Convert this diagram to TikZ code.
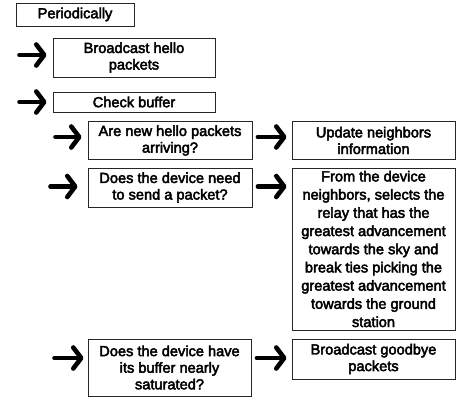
\documentclass[tikz,border=0pt]{standalone}
\usepackage{fontspec}
\setmainfont{Liberation Sans}[FakeBold=3]
\usetikzlibrary{arrows.meta}
\begin{document}
\begin{tikzpicture}[x=1pt,y=-1pt,
  box/.style={draw=black!85, line width=0.9pt, inner sep=0pt, align=center,
    font=\fontsize{14.6}{16.6}\selectfont},
  tall/.style={font=\fontsize{14.6}{18.2}\selectfont},
  fat/.style={line width=4.6pt, line cap=round,
    -{Straight Barb[length=8pt, width=21pt, round]}}]
\useasboundingbox (0,0) rectangle (456,399);
% boxes
\node[box, minimum width=118pt, minimum height=23pt] (per) at (75,14.5) {Periodically};
\node[box, minimum width=162pt, minimum height=39pt] (bh) at (134,57.5) {Broadcast hello\\packets};
\node[box, minimum width=162pt, minimum height=20pt] (cb) at (134,102) {Check buffer};
\node[box, minimum width=164pt, minimum height=38pt] (q1) at (170,140.5) {Are new hello packets\\arriving?};
\node[box, minimum width=163pt, minimum height=38pt] (u1) at (373.5,140.5) {Update neighbors\\information};
\node[box, minimum width=164pt, minimum height=39pt] (q2) at (170,187.5) {Does the device need\\to send a packet?};
\node[box, tall, minimum width=163pt, minimum height=162pt] (a2) at (373.5,249) {From the device\\neighbors, selects the\\relay that has the\\greatest advancement\\towards the sky and\\break ties picking the\\greatest advancement\\towards the ground\\station};
\node[box, minimum width=163pt, minimum height=57pt] (q3) at (169.5,367.5) {Does the device have\\its buffer nearly\\saturated?};
\node[box, minimum width=163pt, minimum height=40pt] (a3) at (373.5,359) {Broadcast goodbye\\packets};
% arrow start points
\coordinate (s1) at (19.5,55);
\coordinate (s2) at (19.5,102);
\coordinate (s3) at (55.5,137);
\coordinate (s4) at (50.5,186.5);
\coordinate (s5) at (54.5,358);
% left arrows
\draw[fat, shorten >=6pt] (s1) -- (s1 -| bh.west);
\draw[fat, shorten >=6pt] (s2) -- (s2 -| cb.west);
\draw[fat, shorten >=6pt] (s3) -- (s3 -| q1.west);
\draw[fat, shorten >=10pt] (s4) -- (s4 -| q2.west);
\draw[fat, shorten >=4pt] (s5) -- (s5 -| q3.west);
% between arrows
\draw[fat, shorten <=5.5pt, shorten >=5pt] (s3 -| q1.east) -- (s3 -| u1.west);
\draw[fat, shorten <=5.5pt, shorten >=5pt] (s4 -| q2.east) -- (s4 -| a2.west);
\draw[fat, shorten <=5.5pt, shorten >=5pt] (s5 -| q3.east) -- (s5 -| a3.west);
\end{tikzpicture}
\end{document}
